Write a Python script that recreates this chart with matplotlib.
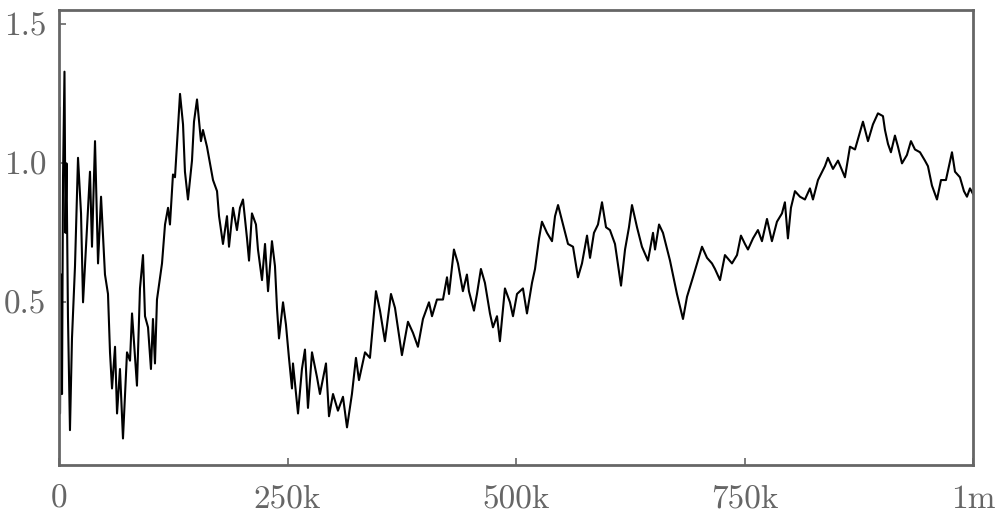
import matplotlib
matplotlib.use("Agg")
import matplotlib.pyplot as plt

# steps in thousands
steps_k = [0.5, 1.1, 2.2, 3.3, 4.4, 6.0, 7.1, 8.2, 9.8, 12.0, 14.2, 17.5, 20.8, 24.1, 26.3,
           30.6, 33.9, 36.1, 39.4, 42.7, 46.0, 50.3, 53.6, 55.8, 58.0, 61.3, 63.5, 66.7, 70.0,
           74.4, 77.7, 79.9, 85.3, 88.6, 91.9, 94.1, 97.4, 100.6, 102.8, 105.0, 107.2, 112.7,
           116.0, 119.3, 121.4, 124.7, 126.9, 129.1, 132.4, 135.7, 137.8, 141.1, 145.5, 147.7,
           151.0, 155.3, 157.5, 161.9, 165.2, 168.5, 172.9, 175.1, 179.4, 183.8, 186.0, 190.4,
           194.7, 198.0, 201.3, 205.7, 207.9, 211.1, 215.5, 217.7, 222.1, 225.4, 228.7, 233.0,
           236.3, 238.5, 240.7, 245.1, 248.3, 251.6, 254.9, 256.0, 261.5, 265.8, 269.1, 272.4,
           276.8, 282.3, 285.5, 292.1, 295.4, 299.8, 305.2, 310.7, 315.1, 320.5, 324.9, 328.2,
           334.8, 340.2, 342.4, 346.8, 351.2, 356.6, 363.2, 367.6, 375.2, 381.8, 387.3, 392.7,
           398.2, 404.8, 408.1, 413.5, 420.1, 424.5, 426.7, 432.1, 436.5, 441.9, 446.3, 448.5,
           454.0, 457.3, 461.6, 466.0, 471.5, 474.8, 479.2, 482.4, 487.9, 493.4, 496.7, 501.1,
           507.6, 512.0, 517.5, 520.8, 525.2, 528.4, 533.9, 539.4, 542.7, 546.0, 551.4, 556.9,
           562.4, 567.8, 572.2, 577.7, 581.0, 585.3, 589.7, 594.1, 598.5, 602.8, 608.3, 614.9,
           619.3, 623.6, 626.9, 632.4, 637.8, 644.4, 649.9, 652.1, 656.5, 660.8, 668.5, 676.1,
           682.7, 687.1, 693.6, 703.5, 709.0, 714.4, 717.7, 723.2, 728.6, 736.3, 741.8, 746.1,
           750.5, 753.8, 759.3, 764.7, 769.1, 774.6, 780.0, 785.5, 791.0, 794.2, 797.5, 800.8,
           805.2, 810.7, 816.1, 821.6, 824.9, 830.4, 838.0, 841.3, 846.8, 852.3, 859.9, 865.4,
           870.9, 875.2, 879.6, 885.1, 890.5, 896.0, 901.5, 903.7, 907.0, 910.2, 914.6, 917.9,
           922.3, 927.7, 932.1, 936.5, 942.0, 947.4, 950.7, 955.1, 960.6, 965.0, 970.4, 977.0,
           980.3, 985.7, 990.1, 993.4, 996.7, 1000.0]
values = [1.20, 0.10, 0.60, 0.17, 0.95, 1.33, 0.75, 1.00, 0.45, 0.04, 0.37, 0.63, 1.02, 0.82, 0.50,
          0.77, 0.97, 0.70, 1.08, 0.64, 0.88, 0.60, 0.53, 0.32, 0.19, 0.34, 0.10, 0.26, 0.01,
          0.32, 0.29, 0.46, 0.20, 0.55, 0.67, 0.45, 0.41, 0.26, 0.44, 0.28, 0.51, 0.64,
          0.78, 0.84, 0.78, 0.96, 0.95, 1.07, 1.25, 1.14, 0.97, 0.87, 1.01, 1.15,
          1.23, 1.08, 1.12, 1.06, 1.00, 0.94, 0.90, 0.81, 0.71, 0.81, 0.70, 0.84,
          0.76, 0.84, 0.87, 0.73, 0.65, 0.82, 0.78, 0.69, 0.58, 0.71, 0.54, 0.72,
          0.63, 0.48, 0.37, 0.50, 0.42, 0.30, 0.19, 0.28, 0.10, 0.26, 0.33, 0.12,
          0.32, 0.23, 0.17, 0.28, 0.09, 0.17, 0.11, 0.16, 0.05, 0.17, 0.30, 0.22,
          0.32, 0.30, 0.38, 0.54, 0.47, 0.36, 0.53, 0.48, 0.31, 0.43, 0.39, 0.34,
          0.44, 0.50, 0.45, 0.51, 0.51, 0.59, 0.53, 0.69, 0.64, 0.54, 0.60, 0.54,
          0.47, 0.53, 0.62, 0.57, 0.46, 0.41, 0.45, 0.36, 0.55, 0.50, 0.45, 0.53,
          0.55, 0.46, 0.57, 0.62, 0.73, 0.79, 0.75, 0.72, 0.81, 0.85, 0.78, 0.71,
          0.70, 0.59, 0.64, 0.74, 0.66, 0.75, 0.78, 0.86, 0.77, 0.76, 0.71, 0.56,
          0.69, 0.77, 0.85, 0.77, 0.70, 0.65, 0.75, 0.69, 0.78, 0.75, 0.65, 0.53,
          0.44, 0.52, 0.59, 0.70, 0.66, 0.64, 0.62, 0.58, 0.67, 0.64, 0.67, 0.74,
          0.71, 0.69, 0.73, 0.76, 0.72, 0.80, 0.72, 0.79, 0.82, 0.86, 0.73, 0.84,
          0.90, 0.88, 0.87, 0.91, 0.87, 0.94, 0.99, 1.02, 0.98, 1.01, 0.95, 1.06,
          1.05, 1.10, 1.15, 1.08, 1.14, 1.18, 1.17, 1.12, 1.07, 1.04, 1.10, 1.06,
          1.00, 1.03, 1.08, 1.05, 1.04, 1.01, 0.99, 0.92, 0.87, 0.94, 0.94, 1.04,
          0.97, 0.95, 0.90, 0.88, 0.91, 0.89]

xtick_vals = [0, 250000, 500000, 750000, 1000000]
xtick_labels = ["0", "250k", "500k", "750k", "1m"]
ytick_vals = [0.5, 1.0, 1.5]
ytick_labels = ["0.5", "1.0", "1.5"]

grey = "#666666"
plt.rcParams["font.family"] = ["cmr10", "DejaVu Serif"]

fig = plt.figure(figsize=(10, 5.25), dpi=100)
ax = fig.add_axes([0.059, 0.114, 0.914, 0.867])

ax.plot([s * 1000 for s in steps_k], values, color="black", lw=1.5)

ax.set_xlim(0, 1000000)
ax.set_ylim(-0.086, 1.552)
ax.set_xticks(xtick_vals)
ax.set_xticklabels(xtick_labels)
ax.set_yticks(ytick_vals)
ax.set_yticklabels(ytick_labels)

for sp in ax.spines.values():
    sp.set_color(grey)
    sp.set_linewidth(2.0)
ax.tick_params(axis="both", direction="in", length=5, width=1.2, color=grey,
               labelcolor=grey, labelsize=24)
ax.tick_params(axis="x", pad=14)
ax.tick_params(axis="y", pad=9)

fig.savefig("out.png", dpi=100)
